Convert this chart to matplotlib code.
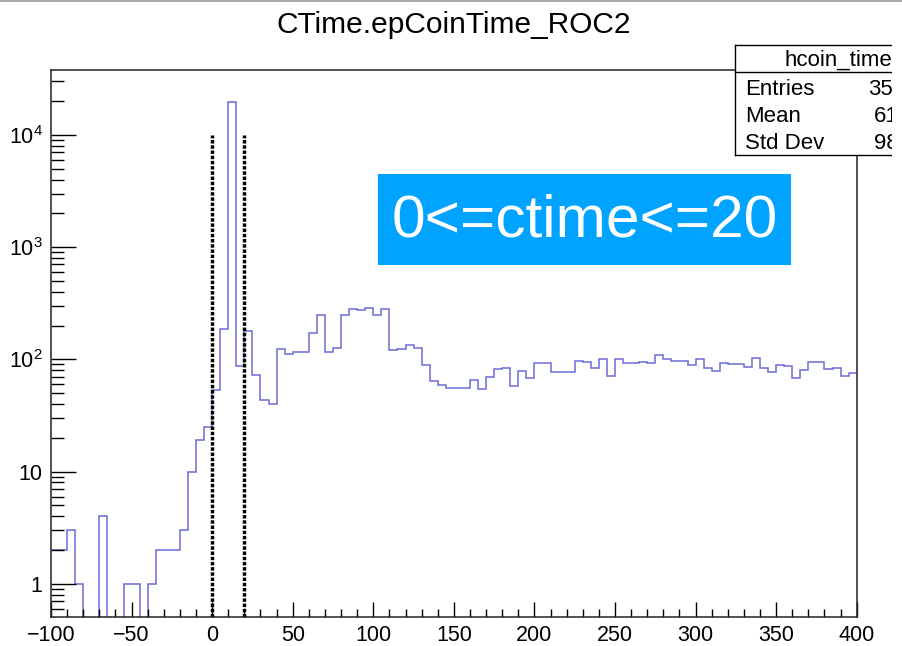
import numpy as np
import matplotlib
matplotlib.use("Agg")
import matplotlib.pyplot as plt
from matplotlib.ticker import FixedLocator, FuncFormatter, LogLocator, MultipleLocator, NullFormatter
from matplotlib.patches import Rectangle
from matplotlib.lines import Line2D

plt.rcParams['font.family'] = ['Liberation Sans', 'DejaVu Sans']
plt.rcParams['mathtext.fontset'] = 'custom'
plt.rcParams['mathtext.rm'] = 'Liberation Sans'
plt.rcParams['mathtext.it'] = 'Liberation Sans'

# ---- data ----
title = "CTime.epCoinTime_ROC2"
bin_low = -100
bin_width = 5
counts = [
    2, 2, 3, 1, 0, 0, 4, 0, 0, 1, 1, 0, 1, 2, 2, 2, 3, 10, 19, 25,
    53, 188, 19700, 87, 180, 73, 43, 40, 123, 112, 117, 117, 171, 250, 116, 127, 250, 281, 274, 289,
    250, 281, 120, 124, 134, 127, 89, 64, 59, 56, 56, 56, 65, 54, 70, 82, 84, 58, 79, 68,
    92, 92, 77, 77, 77, 97, 94, 84, 100, 71, 100, 92, 92, 95, 92, 109, 101, 97, 97, 89,
    100, 84, 79, 92, 90, 90, 86, 102, 84, 77, 89, 87, 68, 80, 95, 95, 82, 84, 71, 75,
]
cut_lines = [0, 20]
cut_top = 1e4
label_text = "0<=ctime<=20"
stats_name = "hcoin_time"
stats_labels = ["Entries", "Mean", "Std Dev"]
stats_values = ["35", "61", "98"]

x_range = (-100, 400)
y_range = (0.51, 37800)

# ---- figure ----
fig = plt.figure(figsize=(9.03, 6.46), dpi=100)
ax = fig.add_axes([51 / 903, 1 - 616.7 / 646, (856.7 - 51) / 903, (616.7 - 70) / 646])

counts_arr = np.array(counts, dtype=float)
edges = bin_low + bin_width * np.arange(len(counts) + 1)
draw_vals = np.where(counts_arr > 0, counts_arr, 1e-3)
ax.stairs(draw_vals, edges, baseline=None, color="#6c6cd8", linewidth=1.1)

for xc in cut_lines:
    ax.plot([xc, xc], [y_range[0], cut_top], color="black", linewidth=2.5,
            linestyle=(0, (1, 0.5)), solid_capstyle='butt')

ax.set_yscale("log")
ax.set_xlim(*x_range)
ax.set_ylim(*y_range)

ax.xaxis.set_major_locator(MultipleLocator(50))
ax.xaxis.set_minor_locator(MultipleLocator(10))
ax.yaxis.set_major_locator(FixedLocator([1, 10, 100, 1000, 10000]))
ax.yaxis.set_minor_locator(LogLocator(base=10, subs=np.arange(2, 10)))
ax.yaxis.set_minor_formatter(NullFormatter())

def yfmt(v, pos):
    e = int(round(np.log10(v)))
    if e == 0:
        return "1"
    if e == 1:
        return "10"
    return r"$\mathregular{10^{%d}}$" % e
ax.yaxis.set_major_formatter(FuncFormatter(yfmt))

ax.tick_params(axis='x', which='major', direction='in', length=10.8, width=1.0,
               labelsize=15.5, pad=6, top=False)
ax.tick_params(axis='x', which='minor', direction='in', length=5.8, width=1.0, top=False)
ax.tick_params(axis='y', which='major', direction='in', length=18, width=1.0,
               labelsize=15.5, pad=6, right=False)
ax.tick_params(axis='y', which='minor', direction='in', length=9.4, width=1.0, right=False)
for s in ax.spines.values():
    s.set_linewidth(1.1)
    s.set_color("#222222")

# title
fig.text(454 / 903, 1 - 25 / 646, title, ha="center", va="center", fontsize=21.5)

# blue label box
bx0, bx1, by0, by1 = 378.3, 791, 174.3, 265
fig.patches.append(Rectangle((bx0 / 903, 1 - by1 / 646), (bx1 - bx0) / 903, (by1 - by0) / 646,
                             transform=fig.transFigure, facecolor="#00a3ff", edgecolor="none", zorder=5))
fig.text((bx0 + bx1) / 2 / 903, 1 - 221 / 646, label_text, ha="center", va="center",
         fontsize=43.5, color="white", zorder=6)

# stats box
sx0, sx1, sy0, sy_mid, sy1 = 735, 892, 45, 72.3, 155
fig.patches.append(Rectangle((sx0 / 903, 1 - sy1 / 646), (sx1 - sx0) / 903, (sy1 - sy0) / 646,
                             transform=fig.transFigure, facecolor="white", edgecolor="none", zorder=7))
for (xa, ya, xb, yb) in [(sx0, sy0, sx1, sy0), (sx0, sy_mid, sx1, sy_mid), (sx0, sy1, sx1, sy1),
                         (sx0, sy0, sx0, sy1)]:
    fig.add_artist(Line2D([xa / 903, xb / 903], [1 - ya / 646, 1 - yb / 646],
                          transform=fig.transFigure, color="black", linewidth=1.0, zorder=8))
fig.text(892 / 903, 1 - 60 / 646, stats_name, ha="right", va="center", fontsize=16, zorder=9)
row_y = [89.3, 116.7, 143.3]
val_x = [868, 874, 874]
for lab, val, yy, vx in zip(stats_labels, stats_values, row_y, val_x):
    fig.text(745 / 903, 1 - yy / 646, lab, ha="left", va="center", fontsize=16, zorder=9)
    fig.text(vx / 903, 1 - yy / 646, val, ha="left", va="center", fontsize=16, zorder=9)

# white margin on right (cropped region)
fig.patches.append(Rectangle((892.5 / 903, 0), 11 / 903, 1, transform=fig.transFigure,
                             facecolor="white", edgecolor="none", zorder=20))
# thin grey border at top
fig.add_artist(Line2D([0, 1], [1 - 0.7 / 646, 1 - 0.7 / 646], transform=fig.transFigure,
                      color="#9a9a9a", linewidth=1.2, zorder=21))

fig.savefig("out.png", dpi=100)
